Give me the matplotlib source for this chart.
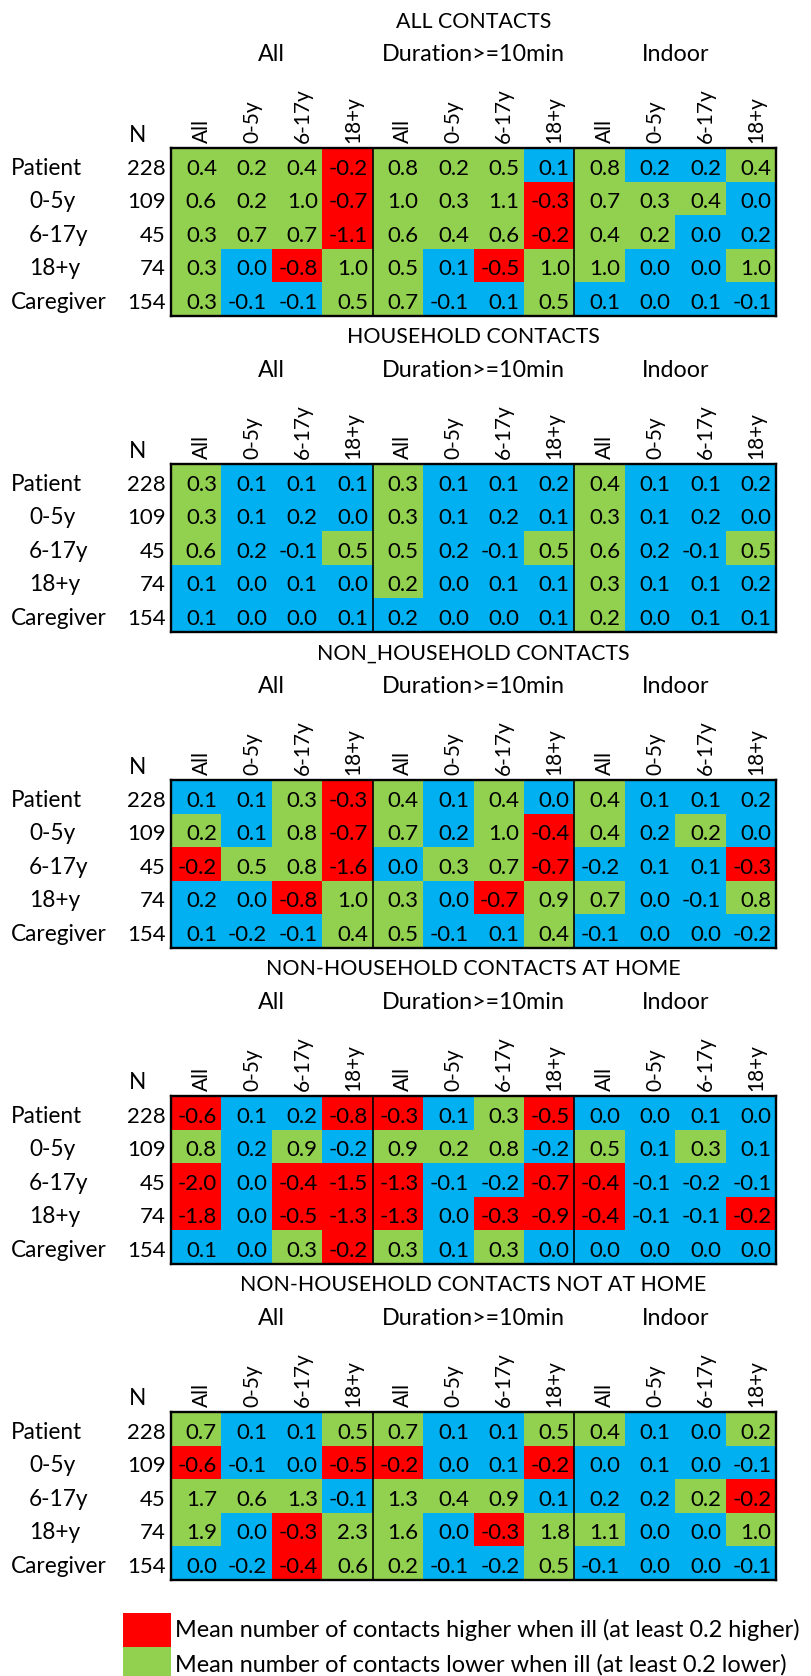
import matplotlib
matplotlib.use('Agg')
import matplotlib.pyplot as plt
from matplotlib.colors import ListedColormap
from matplotlib.patches import Rectangle
import numpy as np

plt.rcParams['font.family'] = ['Lato', 'DejaVu Sans']

# ---------------- data ----------------
panel_titles = ["ALL CONTACTS", "HOUSEHOLD CONTACTS", "NON_HOUSEHOLD CONTACTS",
                "NON-HOUSEHOLD CONTACTS AT HOME", "NON-HOUSEHOLD CONTACTS NOT AT HOME"]
group_labels = ["All", "Duration>=10min", "Indoor"]
col_labels = ["All", "0-5y", "6-17y", "18+y"] * 3
row_labels = ["Patient", "0-5y", "6-17y", "18+y", "Caregiver"]
row_n = [228, 109, 45, 74, 154]

all_vals = [
    [0.4, 0.2, 0.4, -0.2, 0.8, 0.2, 0.5, 0.1, 0.8, 0.2, 0.2, 0.4],
    [0.6, 0.2, 1.0, -0.7, 1.0, 0.3, 1.1, -0.3, 0.7, 0.3, 0.4, 0.0],
    [0.3, 0.7, 0.7, -1.1, 0.6, 0.4, 0.6, -0.2, 0.4, 0.2, 0.0, 0.2],
    [0.3, 0.0, -0.8, 1.0, 0.5, 0.1, -0.5, 1.0, 1.0, 0.0, 0.0, 1.0],
    [0.3, -0.1, -0.1, 0.5, 0.7, -0.1, 0.1, 0.5, 0.1, 0.0, 0.1, -0.1],
]
all_cols = ["GGGR|GGGB|GBBG", "GGGR|GGGR|GGGB", "GGGR|GGGR|GGBB", "GBRG|GBRG|GBBG", "GBBG|GBBG|BBBB"]

hh_vals = [
    [0.3, 0.1, 0.1, 0.1, 0.3, 0.1, 0.1, 0.2, 0.4, 0.1, 0.1, 0.2],
    [0.3, 0.1, 0.2, 0.0, 0.3, 0.1, 0.2, 0.1, 0.3, 0.1, 0.2, 0.0],
    [0.6, 0.2, -0.1, 0.5, 0.5, 0.2, -0.1, 0.5, 0.6, 0.2, -0.1, 0.5],
    [0.1, 0.0, 0.1, 0.0, 0.2, 0.0, 0.1, 0.1, 0.3, 0.1, 0.1, 0.2],
    [0.1, 0.0, 0.0, 0.1, 0.2, 0.0, 0.0, 0.1, 0.2, 0.0, 0.1, 0.1],
]
hh_cols = ["GBBB|GBBB|GBBB", "GBBB|GBBB|GBBB", "GBBG|GBBG|GBBG", "BBBB|GBBB|GBBB", "BBBB|BBBB|GBBB"]

nhh_vals = [
    [0.1, 0.1, 0.3, -0.3, 0.4, 0.1, 0.4, 0.0, 0.4, 0.1, 0.1, 0.2],
    [0.2, 0.1, 0.8, -0.7, 0.7, 0.2, 1.0, -0.4, 0.4, 0.2, 0.2, 0.0],
    [-0.2, 0.5, 0.8, -1.6, 0.0, 0.3, 0.7, -0.7, -0.2, 0.1, 0.1, -0.3],
    [0.2, 0.0, -0.8, 1.0, 0.3, 0.0, -0.7, 0.9, 0.7, 0.0, -0.1, 0.8],
    [0.1, -0.2, -0.1, 0.4, 0.5, -0.1, 0.1, 0.4, -0.1, 0.0, 0.0, -0.2],
]
nhh_cols = ["BBGR|GBGB|GBBB", "GBGR|GBGR|GBGB", "RGGR|BGGR|BBBR", "BBRG|GBRG|GBBG", "BBBG|GBBG|BBBB"]

home_vals = [
    [-0.6, 0.1, 0.2, -0.8, -0.3, 0.1, 0.3, -0.5, 0.0, 0.0, 0.1, 0.0],
    [0.8, 0.2, 0.9, -0.2, 0.9, 0.2, 0.8, -0.2, 0.5, 0.1, 0.3, 0.1],
    [-2.0, 0.0, -0.4, -1.5, -1.3, -0.1, -0.2, -0.7, -0.4, -0.1, -0.2, -0.1],
    [-1.8, 0.0, -0.5, -1.3, -1.3, 0.0, -0.3, -0.9, -0.4, -0.1, -0.1, -0.2],
    [0.1, 0.0, 0.3, -0.2, 0.3, 0.1, 0.3, 0.0, 0.0, 0.0, 0.0, 0.0],
]
home_cols = ["RBBR|RBGR|BBBB", "GBGB|GGGB|GBGB", "RBRR|RBBR|RBBB", "RBRR|RBRR|RBBR", "BBGR|GBGB|BBBB"]

nothome_vals = [
    [0.7, 0.1, 0.1, 0.5, 0.7, 0.1, 0.1, 0.5, 0.4, 0.1, 0.0, 0.2],
    [-0.6, -0.1, 0.0, -0.5, -0.2, 0.0, 0.1, -0.2, 0.0, 0.1, 0.0, -0.1],
    [1.7, 0.6, 1.3, -0.1, 1.3, 0.4, 0.9, 0.1, 0.2, 0.2, 0.2, -0.2],
    [1.9, 0.0, -0.3, 2.3, 1.6, 0.0, -0.3, 1.8, 1.1, 0.0, 0.0, 1.0],
    [0.0, -0.2, -0.4, 0.6, 0.2, -0.1, -0.2, 0.5, -0.1, 0.0, 0.0, -0.1],
]
nothome_cols = ["GBBG|GBBG|GBBG", "RBBR|RBBR|BBBB", "GGGB|GGGB|BBGR", "GBRG|GBRG|GBBG", "BBRG|GBBG|BBBB"]

legend_labels = ["Mean number of contacts higher when ill (at least 0.2 higher)",
                 "Mean number of contacts lower when ill (at least 0.2 lower)"]
legend_codes = ["R", "G"]

# ---------------- style ----------------
palette = {"R": "#FF0000", "G": "#92D050", "B": "#00B0F0"}
code_order = ["R", "G", "B"]
cmap = ListedColormap([palette[c] for c in code_order])

W, H = 811, 1676
fig = plt.figure(figsize=(W / 100, H / 100), dpi=100)
fig.patch.set_facecolor("white")
renderer = fig.canvas.get_renderer()


def fit_size(s, target_px, ref=20.0):
    t = fig.text(0, 0, s, fontsize=ref)
    w = t.get_window_extent(renderer=renderer).width
    t.remove()
    return ref * target_px / w


FS_NUM = fit_size("0.0", 31.0)
FS_ROW = fit_size("Caregiver", 96.0)
FS_COL = fit_size("6-17y", 55.0)
FS_GRP = fit_size("Duration>=10min", 183.0)
FS_TTL = fit_size("ALL CONTACTS", 155.0)
FS_LEG = fit_size(legend_labels[0], 628.0)

GX0, GX1 = 171.0, 776.0
ROWH = 33.5
TOP0, PERIOD = 148.5, 315.9
CW = (GX1 - GX0) / 12.0


def px2x(px):
    return (px - GX0) / CW


panels = [
    (panel_titles[0], all_vals, all_cols),
    (panel_titles[1], hh_vals, hh_cols),
    (panel_titles[2], nhh_vals, nhh_cols),
    (panel_titles[3], home_vals, home_cols),
    (panel_titles[4], nothome_vals, nothome_cols),
]

label_x = [11, 29, 29, 29, 11]

for k, (title, vals, cols) in enumerate(panels):
    top = TOP0 + PERIOD * k
    h = ROWH * len(row_labels)
    ax = fig.add_axes([GX0 / W, 1 - (top + h) / H, (GX1 - GX0) / W, h / H])
    codes = np.array([[code_order.index(c) for c in row.replace("|", "")] for row in cols])
    ax.pcolormesh(codes, cmap=cmap, vmin=-0.5, vmax=len(code_order) - 0.5)
    ax.set_xlim(0, 12)
    ax.set_ylim(len(row_labels), 0)
    ax.set_xticks([])
    ax.set_yticks([])
    for s in ax.spines.values():
        s.set_linewidth(1.7)
        s.set_color("black")
    for xg in (4, 8):
        ax.axvline(xg, color="black", lw=1.2)

    for i in range(len(row_labels)):
        for j in range(12):
            ax.text(j + 1 - 4.5 / CW, i + 0.79, f"{vals[i][j]:.1f}",
                    ha="right", va="baseline", fontsize=FS_NUM, color="black")
        ax.text(px2x(label_x[i]), i + 0.79, row_labels[i], ha="left", va="baseline", fontsize=FS_ROW)
        ax.text(px2x(166), i + 0.79, str(row_n[i]), ha="right", va="baseline", fontsize=FS_NUM)

    ax.text(px2x(129), -6.8 / ROWH, "N", ha="left", va="baseline", fontsize=FS_ROW)
    for j, lab in enumerate(col_labels):
        ax.text(j + 0.5 + 11.5 / CW, -5.5 / ROWH, lab, rotation=90, rotation_mode="anchor",
                ha="left", va="baseline", fontsize=FS_COL)
    for g, lab in enumerate(group_labels):
        ax.text(4 * g + 2, -87.5 / ROWH, lab, ha="center", va="baseline", fontsize=FS_GRP)
    ax.text(6, -121.0 / ROWH, title, ha="center", va="baseline", fontsize=FS_TTL)

# legend
LX0, LY0, LROW = 122.7, 1613.3, 34.0
lax = fig.add_axes([LX0 / W, 1 - (LY0 + LROW * 2) / H, (W - LX0) / W, LROW * 2 / H])
lax.set_xlim(0, W - LX0)
lax.set_ylim(2, 0)
lax.axis("off")
for i, (lab, c) in enumerate(zip(legend_labels, legend_codes)):
    lax.add_patch(Rectangle((0, i), 48.0, 1, facecolor=palette[c], edgecolor="none"))
    lax.text(52.5, i + 0.71, lab, ha="left", va="baseline", fontsize=FS_LEG)

fig.savefig("out.png", dpi=100)
